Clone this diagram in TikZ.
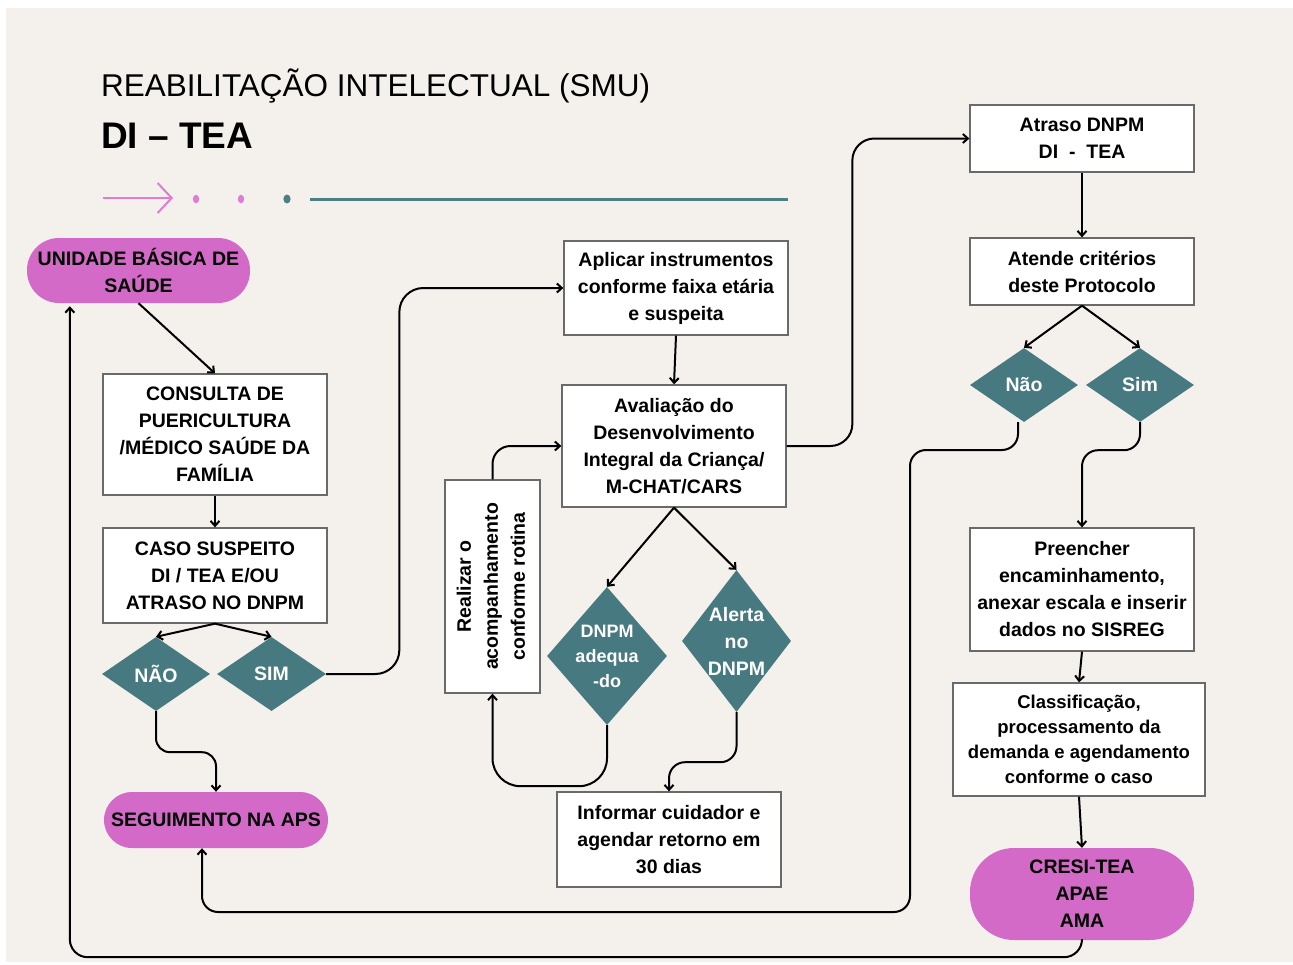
\documentclass[tikz,border=0pt]{standalone}
\usepackage{fontspec}
\setmainfont{Liberation Sans}
\usetikzlibrary{shapes.geometric,arrows.meta,calc}
\definecolor{bg}{HTML}{F4F0EC}
\definecolor{pinkfill}{HTML}{D36AC8}
\definecolor{tealfill}{HTML}{477980}
\definecolor{headpink}{HTML}{E07CD8}
\definecolor{headteal}{HTML}{4D7D85}
\definecolor{boxline}{HTML}{6A6A6A}
\begin{document}
\begin{tikzpicture}[x=1pt,y=-1pt,
  txt/.style={font=\fontsize{19.5}{27}\selectfont\bfseries, align=center, text=black},
  box/.style={txt, draw=boxline, line width=1.3pt, fill=white, inner sep=0pt},
  pill/.style={txt, fill=pinkfill, inner sep=0pt},
  dia/.style={diamond, fill=tealfill, inner sep=0pt},
  dlab/.style={font=\fontsize{19.5}{27}\selectfont\bfseries, text=white, align=center, inner sep=0pt},
  dlabs/.style={font=\fontsize{18}{25}\selectfont\bfseries, text=white, align=center, inner sep=0pt},
  conn/.style={line width=2pt, -{Straight Barb[length=5pt,width=9pt]}},
  connr/.style={conn, rounded corners=#1}, connr/.default=16pt
]
\useasboundingbox (0,0) rectangle (1293,964);
\fill[white] (0,0) rectangle (1293,964);
\fill[bg] (6,8) rectangle (1293,962);

% header
\node[anchor=base west, inner sep=0pt, font=\fontsize{31.5}{36}\selectfont] (title) at (101,96) {REABILITAÇÃO INTELECTUAL (SMU)};
\node[anchor=base west, inner sep=0pt, font=\fontsize{37}{40}\selectfont\bfseries] (sub) at (101,148) {DI – TEA};
\draw[headpink, line width=2pt, -{Straight Barb[length=14pt,width=30pt]}] (103,198) -- (173,198);
\fill[headpink] (196,199) ellipse [x radius=3.2, y radius=4.2];
\fill[headpink] (241,199) ellipse [x radius=3.2, y radius=4.2];
\fill[headteal] (287,199) ellipse [x radius=3.6, y radius=4.4];
\draw[headteal, line width=3pt] (310,199) -- (788,199);

% left column
\node[pill, rounded corners=32pt, minimum width=223pt, minimum height=65pt] (ubs) at (138.5,270.5) {UNIDADE BÁSICA DE\\SAÚDE};
\node[box, minimum width=224pt, minimum height=121pt] (consulta) at (215,434.5) {CONSULTA DE\\PUERICULTURA\\/MÉDICO SAÚDE DA\\FAMÍLIA};
\node[box, minimum width=224pt, minimum height=95pt] (caso) at (215,575.5) {CASO SUSPEITO\\DI / TEA E/OU\\ATRASO NO DNPM};
\node[dia, minimum width=108pt, minimum height=74pt, label={[dlab]center:NÃO}] (nao) at (156,674) {};
\node[dia, minimum width=109pt, minimum height=74pt, label={[dlab]center:SIM}] (sim) at (271.5,674) {};
\node[pill, rounded corners=28pt, minimum width=224pt, minimum height=56pt] (seg) at (216,820) {SEGUIMENTO NA APS};

% middle column
\node[box, minimum width=224pt, minimum height=94pt] (aplicar) at (676,288) {Aplicar instrumentos\\conforme faixa etária\\e suspeita};
\node[box, minimum width=224pt, minimum height=122pt] (aval) at (674,446) {Avaliação do\\Desenvolvimento\\Integral da Criança/\\M-CHAT/CARS};
\node[box, minimum width=95pt, minimum height=213pt] (realizar) at (492.5,586.5) {\rotatebox{90}{\begin{tabular}{@{}c@{}}Realizar o\\acompanhamento\\conforme rotina\end{tabular}}};
\node[dia, minimum width=120pt, minimum height=138pt, label={[dlabs]center:{DNPM\\adequa\\-do}}] (dnpmad) at (607,656) {};
\node[dia, minimum width=109pt, minimum height=142pt, label={[dlab]center:{Alerta\\no\\DNPM}}] (alerta) at (736.5,641) {};
\node[box, minimum width=224pt, minimum height=95pt] (informar) at (669,839.5) {Informar cuidador e\\agendar retorno em\\30 dias};

% right column
\node[box, minimum width=224pt, minimum height=67pt] (atraso) at (1082,138.5) {Atraso DNPM\\DI~~-~~TEA};
\node[box, minimum width=224pt, minimum height=67pt] (atende) at (1082,271.5) {Atende critérios\\deste Protocolo};
\node[dia, minimum width=108pt, minimum height=74pt, label={[dlab]center:Não}] (nao2) at (1024,385) {};
\node[dia, minimum width=108pt, minimum height=74pt, label={[dlab]center:Sim}] (sim2) at (1140,385) {};
\node[box, minimum width=224pt, minimum height=123pt] (preencher) at (1082,589.5) {Preencher\\encaminhamento,\\anexar escala e inserir\\dados no SISREG};
\node[box, font=\fontsize{18.5}{25}\selectfont\bfseries, minimum width=252pt, minimum height=113pt] (classif) at (1079,739.5) {Classificação,\\processamento da\\demanda e agendamento\\conforme o caso};
\node[pill, rounded corners=44pt, minimum width=224pt, minimum height=92pt] (cresi) at (1082,894) {CRESI-TEA\\APAE\\AMA};

\coordinate (n1) at (910,450);
\coordinate (n2) at (910,912);

% connectors
\draw[conn] (ubs.south) -- (consulta.north);
\draw[conn] (consulta.south) -- (caso.north);
\draw[conn] (caso.south) -- (nao.north);
\draw[conn] (caso.south) -- (sim.north);
\draw[connr=14pt] (nao.south) -- ++(0,41) -| (seg.north);
\draw[connr=24pt] (sim.east) -| ($(aplicar.west)+(-164,0)$) -- (aplicar.west);
\draw[conn] (aplicar.south) -- (aval.north);
\draw[connr=22pt] (aval.east) -| ($(atraso.west)+(-117,0)$) -- (atraso.west);
\draw[conn] (aval.south) -- (dnpmad.north);
\draw[conn] (aval.south) -- (alerta.north);
\draw[connr=28pt] (dnpmad.south) -- ++(0,61) -| (realizar.south);
\draw[connr=18pt] (realizar.north) |- (aval.west);
\draw[connr=16pt] (alerta.south) -- ++(0,50) -| (informar.north);
\draw[conn] (atraso.south) -- (atende.north);
\draw[conn] (atende.south) -- (nao2.north);
\draw[conn] (atende.south) -- (sim2.north);
\draw[connr=16pt] ($(nao2.south)+(-6,0)$) |- (n1) -- (n2) -| ($(seg.south)+(-14,0)$);
\draw[connr=16pt] (sim2.south) -- ++(0,28) -| (preencher.north);
\draw[conn] (preencher.south) -- (classif.north);
\draw[conn] (classif.south) -- (cresi.north);
\draw[connr=18pt] (cresi.south) -- ++(0,17) -| ($(ubs.south west)+(43,3)$);
\end{tikzpicture}
\end{document}
